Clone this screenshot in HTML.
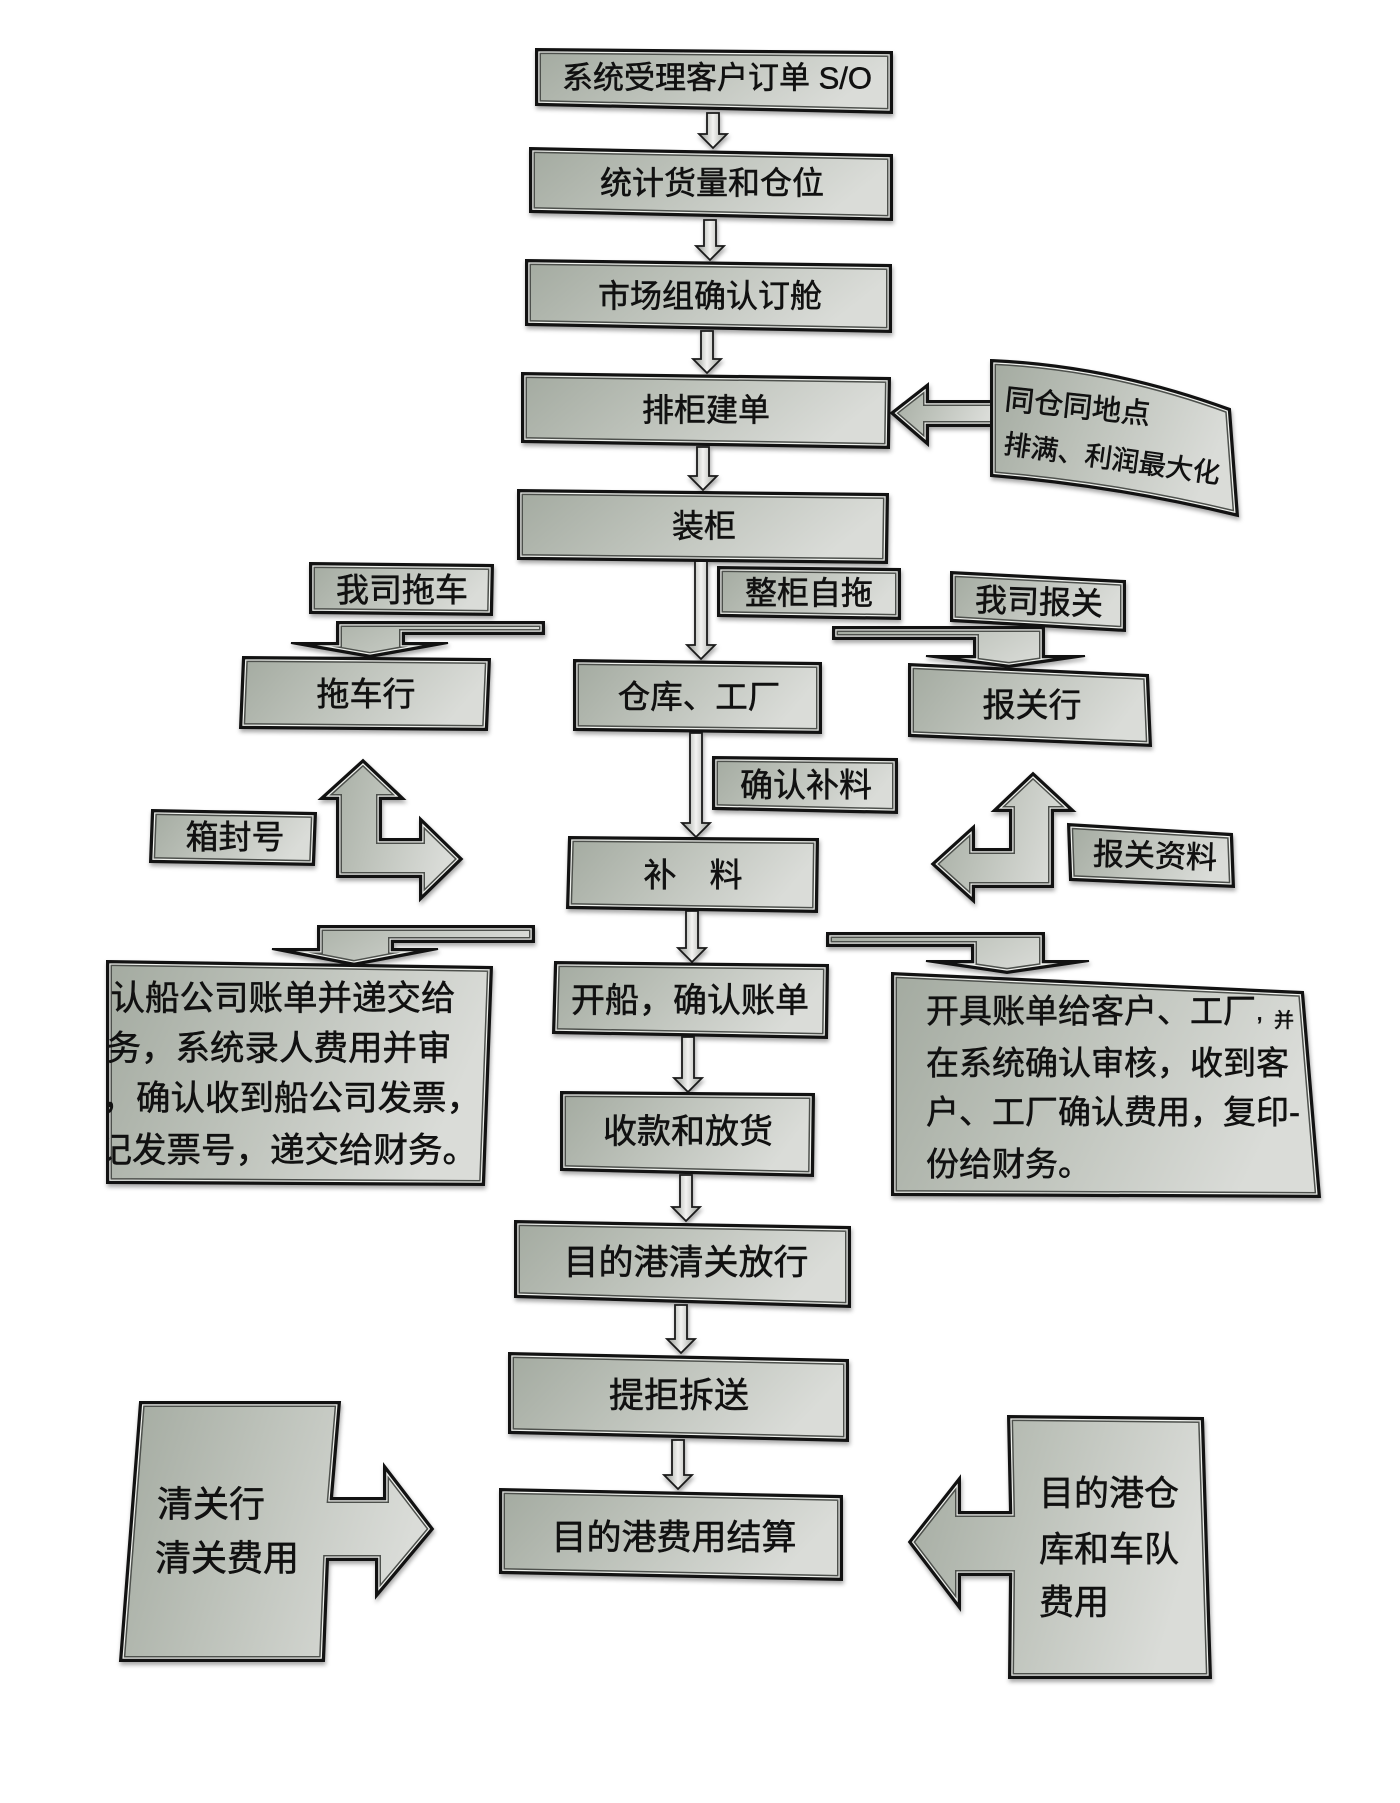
<!DOCTYPE html>
<html><head><meta charset="utf-8">
<style>
html,body{margin:0;padding:0;background:#fff;}
svg{display:block;}
.f{fill:url(#g)}
.k1{fill:none;stroke:#4d504c;stroke-width:10}
.k2{fill:none;stroke:#eef0ec;stroke-width:7}
.k3{fill:none;stroke:#121212;stroke-width:4.5}
.k0{fill:none;stroke:#121212;stroke-width:2}
.c{fill:url(#cg);stroke:#1a1a1a;stroke-width:1.8;stroke-linejoin:miter}
text{font-family:"Liberation Sans","Noto Sans CJK SC",sans-serif;fill:#111;stroke:#111;stroke-width:0.55;dominant-baseline:central;}
.m{text-anchor:middle}
</style></head>
<body>
<svg width="1400" height="1803" viewBox="0 0 1400 1803" xmlns="http://www.w3.org/2000/svg">
<defs>
<linearGradient id="g" x1="0" y1="0" x2="1" y2="0.25">
<stop offset="0" stop-color="#a3aaa0"/>
<stop offset="0.45" stop-color="#bcc1b9"/>
<stop offset="1" stop-color="#dadcd8"/>
</linearGradient>
<linearGradient id="cg" x1="0" y1="0" x2="1" y2="0">
<stop offset="0" stop-color="#8e928c"/>
<stop offset="0.5" stop-color="#f3f3f1"/>
<stop offset="1" stop-color="#9ca09a"/>
</linearGradient>
<polygon id="b1" points="536,49 892,52 892,113 536,105"/>
<polygon id="b2" points="530,148 892,155 892,220 530,212"/>
<polygon id="b3" points="526,260 891,265 891,332 526,325"/>
<polygon id="b4" points="522,373 890,378 889,448 522,442"/>
<polygon id="b5" points="518,490 888,494 887,563 518,559"/>
<polygon id="b6" points="718,567 900,569 900,619 718,616"/>
<polygon id="b7" points="310,563 493,565 492,615 310,613"/>
<polygon id="b8" points="243,657 490,659 487,730 240,728"/>
<polygon id="b9" points="574,660 821,663 821,733 574,730"/>
<polygon id="b10" points="951,572 1125,581 1125,631 951,621"/>
<polygon id="b11" points="909,664 1148,675 1151,746 909,736"/>
<polygon id="b12" points="713,757 897,759 897,813 713,809"/>
<polygon id="b13" points="152,810 316,813 314,865 150,862"/>
<polygon id="b14" points="1068,824 1232,834 1234,887 1070,880"/>
<polygon id="b15" points="569,837 818,839 817,912 567,908"/>
<polygon id="b16" points="555,962 828,965 827,1038 553,1033"/>
<polygon id="b17" points="561,1092 814,1094 813,1176 561,1170"/>
<polygon id="b18" points="515,1221 850,1227 850,1307 515,1297"/>
<polygon id="b19" points="509,1353 848,1360 848,1441 509,1433"/>
<polygon id="b20" points="500,1489 842,1496 842,1580 500,1573"/>
<polygon id="b21" points="107,961 492,967 484,1185 107,1183"/>
<polygon id="b22" points="892,973 1303,992 1320,1197 892,1195"/>
<path id="b23" d="M991,360 Q1110,365 1230,409 L1238,516 Q1114,486 991,476 Z"/>
<polygon id="r1" points="891,413 928,384 928,401 995,401 995,426 928,426 928,445"/>
<polygon id="r2" points="363,760 404,799 381,799 381,839 420,839 420,818 462,859 420,900 420,877 337,877 337,799 320,799"/>
<polygon id="r3" points="1033,773 1074,811 1053,811 1053,887 974,887 974,902 932,864 974,826 974,849 1010,849 1010,811 993,811"/>
<polygon id="r4" points="337,622 544,622 544,634 404,634 404,643 448,643 370,657 291,643 337,643"/>
<polygon id="r5" points="833,627 1044,627 1044,656 1085,656 1009,667 926,656 974,656 974,639 833,639"/>
<polygon id="r6" points="318,926 534,926 534,942 393,942 393,949 438,949 354,965 272,949 318,949"/>
<polygon id="r7" points="827,933 1044,933 1044,961 1089,961 1007,973 926,961 972,961 972,946 827,946"/>
<polygon id="r8" points="140,1402 340,1402 332,1498 384,1498 384,1465 433,1529 376,1597 376,1560 328,1560 324,1661 120,1661"/>
<polygon id="r9" points="1008,1416 1203,1418 1211,1678 1009,1678 1010,1575 960,1575 960,1609 909,1542 960,1477 960,1512 1010,1512"/>
<clipPath id="cb1"><use href="#b1"/></clipPath>
<clipPath id="cb2"><use href="#b2"/></clipPath>
<clipPath id="cb3"><use href="#b3"/></clipPath>
<clipPath id="cb4"><use href="#b4"/></clipPath>
<clipPath id="cb5"><use href="#b5"/></clipPath>
<clipPath id="cb6"><use href="#b6"/></clipPath>
<clipPath id="cb7"><use href="#b7"/></clipPath>
<clipPath id="cb8"><use href="#b8"/></clipPath>
<clipPath id="cb9"><use href="#b9"/></clipPath>
<clipPath id="cb10"><use href="#b10"/></clipPath>
<clipPath id="cb11"><use href="#b11"/></clipPath>
<clipPath id="cb12"><use href="#b12"/></clipPath>
<clipPath id="cb13"><use href="#b13"/></clipPath>
<clipPath id="cb14"><use href="#b14"/></clipPath>
<clipPath id="cb15"><use href="#b15"/></clipPath>
<clipPath id="cb16"><use href="#b16"/></clipPath>
<clipPath id="cb17"><use href="#b17"/></clipPath>
<clipPath id="cb18"><use href="#b18"/></clipPath>
<clipPath id="cb19"><use href="#b19"/></clipPath>
<clipPath id="cb20"><use href="#b20"/></clipPath>
<clipPath id="cb21"><use href="#b21"/></clipPath>
<clipPath id="cb22"><use href="#b22"/></clipPath>
<clipPath id="cb23"><use href="#b23"/></clipPath>
<clipPath id="cr1"><use href="#r1"/></clipPath>
<clipPath id="cr2"><use href="#r2"/></clipPath>
<clipPath id="cr3"><use href="#r3"/></clipPath>
<clipPath id="cr4"><use href="#r4"/></clipPath>
<clipPath id="cr5"><use href="#r5"/></clipPath>
<clipPath id="cr6"><use href="#r6"/></clipPath>
<clipPath id="cr7"><use href="#r7"/></clipPath>
<clipPath id="cr8"><use href="#r8"/></clipPath>
<clipPath id="cr9"><use href="#r9"/></clipPath>
</defs>

<rect x="0" y="0" width="1400" height="1803" fill="#fff"/>

<g style="filter:drop-shadow(1px 3px 2px rgba(0,0,0,0.35))">
<!-- connectors -->
<polygon class="c" points="707,113 719,113 719,134 727,134 713,148 699,134 707,134"/>
<polygon class="c" points="704,220 716,220 716,246 724,246 710,260 696,246 704,246"/>
<polygon class="c" points="701,331 713,331 713,359 721,359 707,373 693,359 701,359"/>
<polygon class="c" points="697,447 709,447 709,476 717,476 703,490 689,476 697,476"/>
<polygon class="c" points="695,561 707,561 707,645 715,645 701,659 687,645 695,645"/>
<polygon class="c" points="690,733 702,733 702,823 710,823 696,837 682,823 690,823"/>
<polygon class="c" points="686,911 698,911 698,948 706,948 692,962 678,948 686,948"/>
<polygon class="c" points="682,1037 694,1037 694,1078 702,1078 688,1092 674,1078 682,1078"/>
<polygon class="c" points="680,1175 692,1175 692,1207 700,1207 686,1221 672,1207 680,1207"/>
<polygon class="c" points="675,1305 687,1305 687,1339 695,1339 681,1353 667,1339 675,1339"/>
<polygon class="c" points="672,1440 684,1440 684,1475 692,1475 678,1489 664,1475 672,1475"/>

<!-- arrow shapes -->
<use href="#r1" class="f"/><g clip-path="url(#cr1)"><use href="#r1" class="k1"/><use href="#r1" class="k2"/><use href="#r1" class="k3"/></g><use href="#r1" class="k0"/>
<use href="#r2" class="f"/><g clip-path="url(#cr2)"><use href="#r2" class="k1"/><use href="#r2" class="k2"/><use href="#r2" class="k3"/></g><use href="#r2" class="k0"/>
<use href="#r3" class="f"/><g clip-path="url(#cr3)"><use href="#r3" class="k1"/><use href="#r3" class="k2"/><use href="#r3" class="k3"/></g><use href="#r3" class="k0"/>
<use href="#r4" class="f"/><g clip-path="url(#cr4)"><use href="#r4" class="k1"/><use href="#r4" class="k2"/><use href="#r4" class="k3"/></g><use href="#r4" class="k0"/>
<use href="#r5" class="f"/><g clip-path="url(#cr5)"><use href="#r5" class="k1"/><use href="#r5" class="k2"/><use href="#r5" class="k3"/></g><use href="#r5" class="k0"/>
<use href="#r6" class="f"/><g clip-path="url(#cr6)"><use href="#r6" class="k1"/><use href="#r6" class="k2"/><use href="#r6" class="k3"/></g><use href="#r6" class="k0"/>
<use href="#r7" class="f"/><g clip-path="url(#cr7)"><use href="#r7" class="k1"/><use href="#r7" class="k2"/><use href="#r7" class="k3"/></g><use href="#r7" class="k0"/>
<use href="#r8" class="f"/><g clip-path="url(#cr8)"><use href="#r8" class="k1"/><use href="#r8" class="k2"/><use href="#r8" class="k3"/></g><use href="#r8" class="k0"/>
<use href="#r9" class="f"/><g clip-path="url(#cr9)"><use href="#r9" class="k1"/><use href="#r9" class="k2"/><use href="#r9" class="k3"/></g><use href="#r9" class="k0"/>

<!-- boxes -->
<use href="#b1" class="f"/><g clip-path="url(#cb1)"><use href="#b1" class="k1"/><use href="#b1" class="k2"/><use href="#b1" class="k3"/></g><use href="#b1" class="k0"/>
<use href="#b2" class="f"/><g clip-path="url(#cb2)"><use href="#b2" class="k1"/><use href="#b2" class="k2"/><use href="#b2" class="k3"/></g><use href="#b2" class="k0"/>
<use href="#b3" class="f"/><g clip-path="url(#cb3)"><use href="#b3" class="k1"/><use href="#b3" class="k2"/><use href="#b3" class="k3"/></g><use href="#b3" class="k0"/>
<use href="#b4" class="f"/><g clip-path="url(#cb4)"><use href="#b4" class="k1"/><use href="#b4" class="k2"/><use href="#b4" class="k3"/></g><use href="#b4" class="k0"/>
<use href="#b5" class="f"/><g clip-path="url(#cb5)"><use href="#b5" class="k1"/><use href="#b5" class="k2"/><use href="#b5" class="k3"/></g><use href="#b5" class="k0"/>
<use href="#b6" class="f"/><g clip-path="url(#cb6)"><use href="#b6" class="k1"/><use href="#b6" class="k2"/><use href="#b6" class="k3"/></g><use href="#b6" class="k0"/>
<use href="#b7" class="f"/><g clip-path="url(#cb7)"><use href="#b7" class="k1"/><use href="#b7" class="k2"/><use href="#b7" class="k3"/></g><use href="#b7" class="k0"/>
<use href="#b8" class="f"/><g clip-path="url(#cb8)"><use href="#b8" class="k1"/><use href="#b8" class="k2"/><use href="#b8" class="k3"/></g><use href="#b8" class="k0"/>
<use href="#b9" class="f"/><g clip-path="url(#cb9)"><use href="#b9" class="k1"/><use href="#b9" class="k2"/><use href="#b9" class="k3"/></g><use href="#b9" class="k0"/>
<use href="#b10" class="f"/><g clip-path="url(#cb10)"><use href="#b10" class="k1"/><use href="#b10" class="k2"/><use href="#b10" class="k3"/></g><use href="#b10" class="k0"/>
<use href="#b11" class="f"/><g clip-path="url(#cb11)"><use href="#b11" class="k1"/><use href="#b11" class="k2"/><use href="#b11" class="k3"/></g><use href="#b11" class="k0"/>
<use href="#b12" class="f"/><g clip-path="url(#cb12)"><use href="#b12" class="k1"/><use href="#b12" class="k2"/><use href="#b12" class="k3"/></g><use href="#b12" class="k0"/>
<use href="#b13" class="f"/><g clip-path="url(#cb13)"><use href="#b13" class="k1"/><use href="#b13" class="k2"/><use href="#b13" class="k3"/></g><use href="#b13" class="k0"/>
<use href="#b14" class="f"/><g clip-path="url(#cb14)"><use href="#b14" class="k1"/><use href="#b14" class="k2"/><use href="#b14" class="k3"/></g><use href="#b14" class="k0"/>
<use href="#b15" class="f"/><g clip-path="url(#cb15)"><use href="#b15" class="k1"/><use href="#b15" class="k2"/><use href="#b15" class="k3"/></g><use href="#b15" class="k0"/>
<use href="#b16" class="f"/><g clip-path="url(#cb16)"><use href="#b16" class="k1"/><use href="#b16" class="k2"/><use href="#b16" class="k3"/></g><use href="#b16" class="k0"/>
<use href="#b17" class="f"/><g clip-path="url(#cb17)"><use href="#b17" class="k1"/><use href="#b17" class="k2"/><use href="#b17" class="k3"/></g><use href="#b17" class="k0"/>
<use href="#b18" class="f"/><g clip-path="url(#cb18)"><use href="#b18" class="k1"/><use href="#b18" class="k2"/><use href="#b18" class="k3"/></g><use href="#b18" class="k0"/>
<use href="#b19" class="f"/><g clip-path="url(#cb19)"><use href="#b19" class="k1"/><use href="#b19" class="k2"/><use href="#b19" class="k3"/></g><use href="#b19" class="k0"/>
<use href="#b20" class="f"/><g clip-path="url(#cb20)"><use href="#b20" class="k1"/><use href="#b20" class="k2"/><use href="#b20" class="k3"/></g><use href="#b20" class="k0"/>
<use href="#b21" class="f"/><g clip-path="url(#cb21)"><use href="#b21" class="k1"/><use href="#b21" class="k2"/><use href="#b21" class="k3"/></g><use href="#b21" class="k0"/>
<use href="#b22" class="f"/><g clip-path="url(#cb22)"><use href="#b22" class="k1"/><use href="#b22" class="k2"/><use href="#b22" class="k3"/></g><use href="#b22" class="k0"/>
<use href="#b23" class="f"/><g clip-path="url(#cb23)"><use href="#b23" class="k1"/><use href="#b23" class="k2"/><use href="#b23" class="k3"/></g><use href="#b23" class="k0"/>
</g>

<!-- texts -->
<text class="m" x="717" y="78" font-size="31">系统受理客户订单 S/O</text>
<text class="m" x="712" y="183" font-size="32">统计货量和仓位</text>
<text class="m" x="710" y="296" font-size="32">市场组确认订舱</text>
<text class="m" x="706" y="410" font-size="32">排柜建单</text>
<text class="m" x="704" y="526" font-size="32">装柜</text>
<text class="m" x="809" y="593" font-size="32">整柜自拖</text>
<text class="m" x="402" y="590" font-size="33">我司拖车</text>
<text class="m" x="366" y="694" font-size="33">拖车行</text>
<text class="m" x="699" y="697" font-size="32.5">仓库、工厂</text>
<text class="m" x="1039" y="602" font-size="32" transform="rotate(2 1039 602)">我司报关</text>
<text class="m" x="1032" y="705" font-size="33">报关行</text>
<text class="m" x="806" y="785" font-size="33">确认补料</text>
<text class="m" x="235" y="837" font-size="33">箱封号</text>
<text class="m" x="1155" y="856" font-size="31" transform="rotate(2 1155 856)">报关资料</text>
<text class="m" x="693" y="875" font-size="33">补　料</text>
<text class="m" x="690" y="1001" font-size="34">开船，确认账单</text>
<text class="m" x="688" y="1132" font-size="34">收款和放货</text>
<text class="m" x="686" y="1263" font-size="35">目的港清关放行</text>
<text class="m" x="679" y="1396" font-size="35">提拒拆送</text>
<text class="m" x="674" y="1538" font-size="35">目的港费用结算</text>

<text x="1005" y="400" font-size="29" textLength="146" lengthAdjust="spacingAndGlyphs" transform="rotate(6 1005 400)">同仓同地点</text>
<text x="1004" y="444" font-size="27" textLength="218" lengthAdjust="spacingAndGlyphs" transform="rotate(8 1004 444)">排满、利润最大化</text>

<g clip-path="url(#cb21)">
<text x="76" y="999" font-size="34.5">确认船公司账单并递交给</text>
<text x="72" y="1049" font-size="34.5">财务，系统录人费用并审</text>
<text x="67" y="1099" font-size="34.5">核，确认收到船公司发票，</text>
<text x="63" y="1151" font-size="34.5">登记发票号，递交给财务。</text>
</g>

<text x="926" y="1011" font-size="33">开具账单给客户、工厂<tspan font-size="26">,</tspan></text>
<text x="1274" y="1021" font-size="20">并</text>
<text x="926" y="1063" font-size="33">在系统确认审核，收到客</text>
<text x="926" y="1112" font-size="33">户、工厂确认费用，复印-</text>
<text x="926" y="1164" font-size="33">份给财务。</text>

<text x="157" y="1504" font-size="36">清关行</text>
<text x="155" y="1558" font-size="36">清关费用</text>

<text x="1039" y="1494" font-size="35">目的港仓</text>
<text x="1039" y="1550" font-size="35">库和车队</text>
<text x="1039" y="1603" font-size="35">费用</text>
</svg>
</body></html>
